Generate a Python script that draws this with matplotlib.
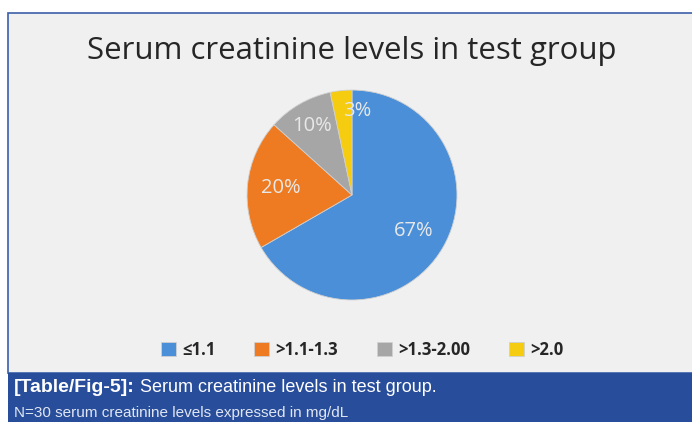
import matplotlib.pyplot as plt
from matplotlib.patches import Rectangle

# data: N=30 test group
categories = ['≤1.1', '>1.1-1.3', '>1.3-2.00', '>2.0']
counts = [20, 6, 3, 1]
colors = ['#4a8fd8', '#ee7b22', '#a6a6a6', '#f5cc10']

fig = plt.figure(figsize=(6.92, 4.22), dpi=100)
fig.patch.set_facecolor('white')

# chart panel and caption bar (behind the axes)
fig.patches.append(Rectangle((8/692, 49/422), 1, 360/422, transform=fig.transFigure, zorder=-2,
                             facecolor='#f0f0f0', edgecolor='#3a5fa8', linewidth=1.2))
fig.patches.append(Rectangle((8/692, 0), 1, 49/422, transform=fig.transFigure, zorder=-2,
                             facecolor='#284d9a', edgecolor='none'))

fig.text(352/692, 1 - 51/422, 'Serum creatinine levels in test group', ha='center', va='center',
         fontsize=22.4, family='Open Sans', color='#262626')

ax = fig.add_axes([(352 - 106)/692, 1 - (195 + 106)/422, 212/692, 212/422])
ax.set_facecolor('none')
wedges, texts, autotexts = ax.pie(counts, colors=colors, startangle=90, counterclock=False,
                                  autopct=lambda p: '%d%%' % round(p), pctdistance=0.68,
                                  wedgeprops=dict(edgecolor='#d0d0d0', linewidth=0.6),
                                  textprops=dict(color='#e8e8e8', fontsize=14.5, family='Open Sans'))
autotexts[3].set_position((0.05, 0.8))
autotexts[2].set_position((-0.38, 0.66))
ax.set_xlim(-1.01, 1.01)
ax.set_ylim(-1.01, 1.01)
ax.set_aspect('equal')

fig.legend(wedges, categories, loc='center', bbox_to_anchor=(362/692, 1 - 350/422), ncol=4,
           frameon=False, handlelength=0.9, handleheight=0.9, columnspacing=2.3, handletextpad=0.4,
           prop=dict(family='Open Sans', size=12, weight='bold'), labelcolor='#262626')

fig.text(14/692, 1 - 387/422, '[Table/Fig-5]:', fontsize=14, weight='bold', color='white',
         family='Liberation Sans', va='center')
fig.text(140/692, 1 - 387/422, 'Serum creatinine levels in test group.', fontsize=13, color='white',
         family='Liberation Sans', va='center')
fig.text(14/692, 1 - 413/422, 'N=30 serum creatinine levels expressed in mg/dL', fontsize=11,
         color='#e0e6f2', family='Liberation Sans', va='center')

fig.savefig('out.png', dpi=100)
